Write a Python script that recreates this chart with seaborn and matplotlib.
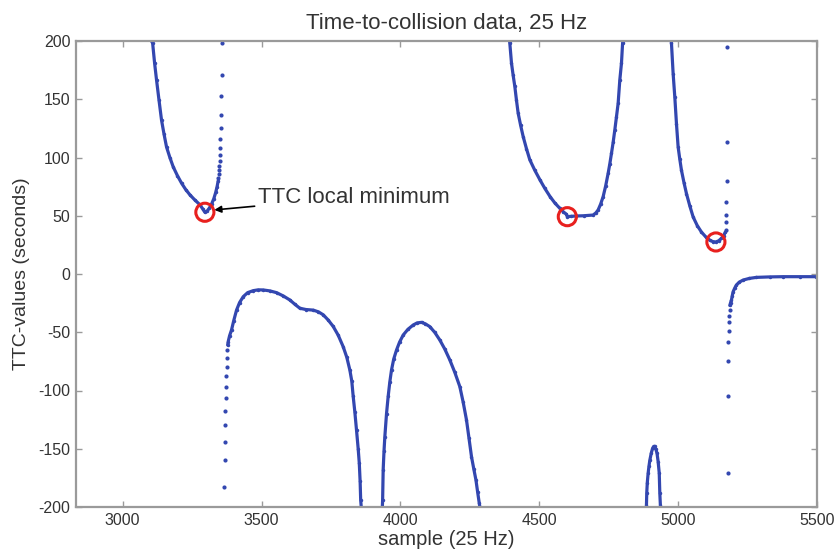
import matplotlib
matplotlib.use("Agg")
import matplotlib.pyplot as plt
import seaborn as sns

# first U-shaped branch (dense part) and its steep right tail
u1_x = [3104, 3108, 3115, 3122, 3131, 3140, 3149, 3158, 3170, 3182, 3197, 3212, 3227, 3242,
        3260, 3278, 3288, 3296, 3304, 3312, 3320, 3328, 3335, 3340, 3344]
u1_y = [200, 198, 181, 166.5, 149, 132, 120, 109, 100, 92, 84.5, 78, 72.5, 68,
        63.5, 59.5, 56, 53, 54, 56.5, 60, 64.5, 70, 75, 80]
u1_tail_x = [3345, 3346, 3347, 3348, 3349, 3350, 3351, 3352, 3353, 3354, 3355, 3356, 3357]
u1_tail_y = [82, 85.8, 89.3, 92.7, 97.3, 102, 107.9, 115.6, 125, 136.5, 153, 170.8, 198]

# first negative arch: steep left tail then dense curve
a1_tail_x = [3366, 3367, 3368, 3369, 3370, 3371, 3372, 3373, 3374, 3375, 3376]
a1_tail_y = [-182.5, -159.7, -144.5, -129.6, -117.3, -106.7, -96.7, -87.6, -79.6, -72, -65.3]
a1_x = [3378, 3380, 3385, 3392, 3400, 3410, 3421, 3434, 3450, 3470, 3488, 3506, 3530, 3554,
        3578, 3602, 3620, 3638, 3660, 3686, 3705, 3722, 3740, 3758, 3776, 3794, 3807,
        3818, 3825, 3830, 3836, 3842, 3848, 3852, 3855, 3857, 3859]
a1_y = [-61, -58, -53, -48, -40, -31, -24.5, -19.5, -16, -14.3, -13.6, -13.7, -14.5, -16,
        -18.8, -22.3, -26, -29.4, -30.5, -31, -32.5, -35, -39.5, -45, -52.5, -62.4, -71.5,
        -82.4, -92, -105, -118.5, -134, -150, -162.5, -178, -194, -200]

# second negative arch
a2_x = [3935, 3936, 3938, 3941, 3944, 3950, 3956, 3962, 3968, 3976, 3986, 3997, 4010, 4027,
        4046, 4060, 4076, 4090, 4106, 4124, 4142, 4160, 4178, 4196, 4214, 4226, 4238, 4247,
        4256, 4264, 4272, 4278, 4284, 4286]
a2_y = [-200, -194, -168, -152, -139.6, -120, -105, -92.5, -82.4, -73, -65.3, -58.5, -52.4,
        -47.5, -43.8, -42, -41.5, -42.8, -45.2, -50.2, -56.7, -64.5, -73.8, -84.5, -96.7,
        -110, -125.3, -141, -156.8, -167, -176.8, -187, -196.8, -200]

# second U
u2_x = [4393, 4394, 4400, 4406, 4412, 4418, 4424, 4433, 4442, 4454, 4466, 4484, 4502, 4520,
        4539, 4556, 4574, 4586, 4598, 4601, 4615, 4634, 4660, 4694, 4704,
        4712, 4721, 4730, 4739, 4748, 4754, 4760, 4766, 4772, 4778, 4784, 4790, 4796, 4800, 4801]
u2_y = [200, 198, 181, 170.5, 161, 149, 138, 127.5, 118, 107.5, 98, 89, 81, 73.5,
        66.4, 61, 56.4, 53.5, 51.2, 49.2, 49.5, 49.8, 50, 50.6, 52.5,
        55, 60, 66.4, 75.5, 86.4, 94.5, 103.6, 113, 123.6, 135, 146.5, 166.5, 181, 198, 200]

# small negative spike near 4900
sp_x = [4886, 4887, 4889, 4892, 4895, 4898, 4903, 4908, 4912, 4916, 4920, 4924, 4928, 4932,
        4934, 4936]
sp_y = [-198, -188, -179, -171, -165, -160, -154, -149.6, -148, -148, -150.5, -154, -161,
        -171, -188, -198]

# third U and its steep right tail
u3_x = [4975, 4976, 4982, 4988, 4994, 5000, 5006, 5012, 5021, 5030, 5042, 5054, 5069, 5084,
        5099, 5114, 5125, 5136, 5146, 5156, 5164, 5170]
u3_y = [200, 198, 172, 152, 129, 109, 98.5, 89, 78.5, 69, 58.5, 49, 41.5, 36,
        32, 29, 27.8, 27.5, 28.5, 30.6, 33, 36]
u3_tail_x = [5171, 5172, 5173, 5174, 5175, 5176, 5177]
u3_tail_y = [38, 45, 50.6, 62, 80, 113, 195]

# final branch rising to near zero
end_tail_x = [5178, 5179, 5180, 5181, 5182, 5183, 5184, 5185]
end_tail_y = [-170.5, -104.5, -74.4, -58.6, -48.7, -41, -36, -31]
end_x = [5186, 5189, 5192, 5195, 5198, 5204, 5210, 5220, 5234, 5256, 5282, 5330, 5378,
         5440, 5498, 5500]
end_y = [-27, -24.5, -22.3, -18.5, -15.2, -12, -9.4, -7, -5.2, -3.8, -2.9, -2.5, -2.3,
         -2.3, -2.3, -2.3]

# TTC local minima
min_x = [3296, 4601, 5136]
min_y = [53, 49.2, 27.5]

BLUE = "#3347b0"
GREY = "#9a9a9a"
TXT = "#333333"

sns.set_style("ticks")
plt.rcParams["font.family"] = ["Liberation Sans", "DejaVu Sans"]
plt.rcParams["axes.unicode_minus"] = False

fig = plt.figure(figsize=(8.38, 5.51), dpi=100)
ax = fig.add_axes([76 / 838, 44 / 551, 741 / 838, 466 / 551])

dense = [(u1_x, u1_y), (a1_x, a1_y), (a2_x, a2_y), (u2_x, u2_y),
         (sp_x, sp_y), (u3_x, u3_y), (end_x, end_y)]
for xs, ys in dense:
    sns.lineplot(x=xs, y=ys, ax=ax, sort=False, color=BLUE, lw=2.3,
                 marker="o", markersize=2.5, markeredgewidth=0)

sparse = [(u1_tail_x, u1_tail_y), (a1_tail_x, a1_tail_y),
          (u3_tail_x, u3_tail_y), (end_tail_x, end_tail_y)]
for xs, ys in sparse:
    sns.scatterplot(x=xs, y=ys, ax=ax, color=BLUE, s=9, linewidth=0)

ax.scatter(min_x, min_y, s=170, facecolors="none", edgecolors="#e8201e",
           linewidths=2.2, zorder=5)

ax.annotate("TTC local minimum", xy=(3330, 55), xytext=(3487, 66),
            fontsize=16, color=TXT, va="center", ha="left",
            arrowprops=dict(arrowstyle="-|>", color="black", lw=1.2,
                            mutation_scale=10, shrinkA=0, shrinkB=0))

ax.set_xlim(2832, 5500)
ax.set_ylim(-200, 200)
ax.set_xticks([3000, 3500, 4000, 4500, 5000, 5500])
ax.set_yticks(range(-200, 201, 50))

ax.set_title("Time-to-collision data, 25 Hz", fontsize=16, color=TXT, pad=9)
ax.set_xlabel("sample (25 Hz)", fontsize=14.5, color=TXT, labelpad=2)
ax.set_ylabel("TTC-values (seconds)", fontsize=14, color=TXT, labelpad=6)

for s in ax.spines.values():
    s.set_visible(True)
    s.set_color(GREY)
    s.set_linewidth(1.6)
ax.tick_params(direction="in", length=4, width=1, color=GREY, labelsize=11.5,
               labelcolor=TXT, top=True, right=True, pad=4)

fig.savefig("out.png", dpi=100)
